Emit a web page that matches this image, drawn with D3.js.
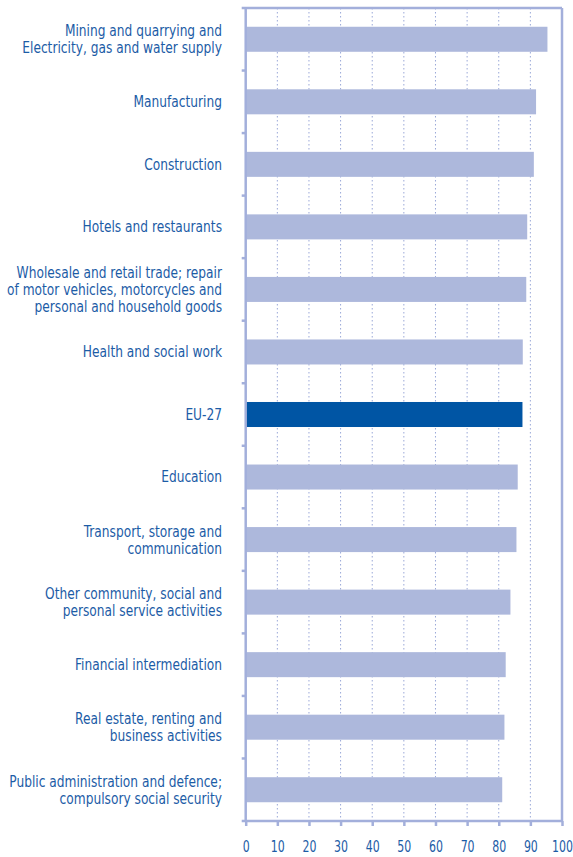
<!DOCTYPE html>
<html>
<head>
<meta charset="utf-8">
<script src="https://cdn.jsdelivr.net/npm/d3@7"></script>
<style>
  html, body { margin: 0; padding: 0; background: #ffffff; }
  svg { display: block; }
  text { font-family: "DejaVu Sans Condensed", "DejaVu Sans", sans-serif; fill: #1c5ca6; }
</style>
</head>
<body>
<svg id="chart" width="573" height="857"></svg>
<script>
// Sectors, top to bottom; "\n" marks a line break in the label
const categories = [
  "Mining and quarrying and\nElectricity, gas and water supply",
  "Manufacturing",
  "Construction",
  "Hotels and restaurants",
  "Wholesale and retail trade; repair\nof motor vehicles, motorcycles and\npersonal and household goods",
  "Health and social work",
  "EU-27",
  "Education",
  "Transport, storage and\ncommunication",
  "Other community, social and\npersonal service activities",
  "Financial intermediation",
  "Real estate, renting and\nbusiness activities",
  "Public administration and defence;\ncompulsory social security"
];
const values = [95.4, 91.8, 91.1, 89.0, 88.7, 87.6, 87.5, 86.0, 85.6, 83.7, 82.2, 81.8, 81.1];
const highlight = "EU-27";
const xTicks = [0, 10, 20, 30, 40, 50, 60, 70, 80, 90, 100];

const margin = { top: 8, right: 11, bottom: 36, left: 245.7 };
const W = 573, H = 857;
const innerW = W - margin.left - margin.right;
const innerH = H - margin.top - margin.bottom;

const axisColor = "#a3afdb";
const barColor = "#adb8dc";
const euColor = "#0055a4";
const textColor = "#1c5ca6";
const narrowLabel = 0.877;   // horizontal squeeze for a condensed look
const narrowTick = 0.74;

const svg = d3.select("#chart");
const g = svg.append("g").attr("transform", `translate(${margin.left},${margin.top})`);

const x = d3.scaleLinear().domain([0, 100]).range([0, innerW]);
const y = d3.scaleBand().domain(categories).range([0, innerH]).paddingInner(0.6).paddingOuter(0.3);

// dotted vertical gridlines
g.append("g")
  .selectAll("line")
  .data(xTicks.filter(t => t > 0 && t < 100))
  .join("line")
  .attr("x1", d => x(d)).attr("x2", d => x(d))
  .attr("y1", 0).attr("y2", innerH)
  .attr("stroke", "#9aa8d8")
  .attr("stroke-width", 1)
  .attr("stroke-dasharray", "1.5,2.5");

// bars
g.append("g")
  .selectAll("rect")
  .data(categories)
  .join("rect")
  .attr("x", x(0))
  .attr("y", d => y(d))
  .attr("width", (d, i) => x(values[i]) - x(0))
  .attr("height", y.bandwidth())
  .attr("fill", d => d === highlight ? euColor : barColor);

// frame: top and right borders
g.append("line").attr("x1", -4).attr("x2", innerW).attr("y1", 0).attr("y2", 0)
  .attr("stroke", axisColor).attr("stroke-width", 2.5);
g.append("line").attr("x1", innerW).attr("x2", innerW).attr("y1", 0).attr("y2", innerH)
  .attr("stroke", axisColor).attr("stroke-width", 2.5);

// bottom axis
const xAxis = g.append("g")
  .attr("transform", `translate(0,${innerH})`)
  .call(d3.axisBottom(x).tickValues(xTicks).tickSize(5).tickPadding(14).tickSizeOuter(0));
xAxis.select(".domain").attr("stroke", axisColor).attr("stroke-width", 2.5)
  .attr("d", `M-4,0H${innerW}`);
xAxis.selectAll(".tick line").attr("stroke", axisColor).attr("stroke-width", 2.5);
xAxis.selectAll(".tick text")
  .attr("font-size", 16.5)
  .attr("font-family", "DejaVu Sans Condensed, DejaVu Sans, sans-serif")
  .attr("transform", `scale(${narrowTick},1)`)
  .style("fill", textColor);

// left axis line with ticks between categories
g.append("line").attr("x1", 0).attr("x2", 0).attr("y1", 0).attr("y2", innerH)
  .attr("stroke", axisColor).attr("stroke-width", 2.5);
const step = y.step();
const boundaries = d3.range(1, categories.length).map(i => y(categories[i]) - y.paddingInner() * step / 2);
g.append("g")
  .selectAll("line")
  .data(boundaries)
  .join("line")
  .attr("x1", -4).attr("x2", 0)
  .attr("y1", d => d).attr("y2", d => d)
  .attr("stroke", axisColor).attr("stroke-width", 2.5);

// category labels
const lineH = 17;
const labels = g.append("g")
  .selectAll("text")
  .data(categories)
  .join("text")
  .attr("text-anchor", "end")
  .attr("font-size", 15.5)
  .attr("transform", d => `translate(-23.7,${y(d) + y.bandwidth() / 2}) scale(${narrowLabel},1)`);
labels.each(function (d) {
  const lines = d.split("\n");
  const t = d3.select(this);
  lines.forEach((ln, i) => {
    t.append("tspan")
      .attr("x", 0)
      .attr("y", (i - (lines.length - 1) / 2) * lineH)
      .attr("dy", "0.35em")
      .text(ln);
  });
});
</script>
</body>
</html>
